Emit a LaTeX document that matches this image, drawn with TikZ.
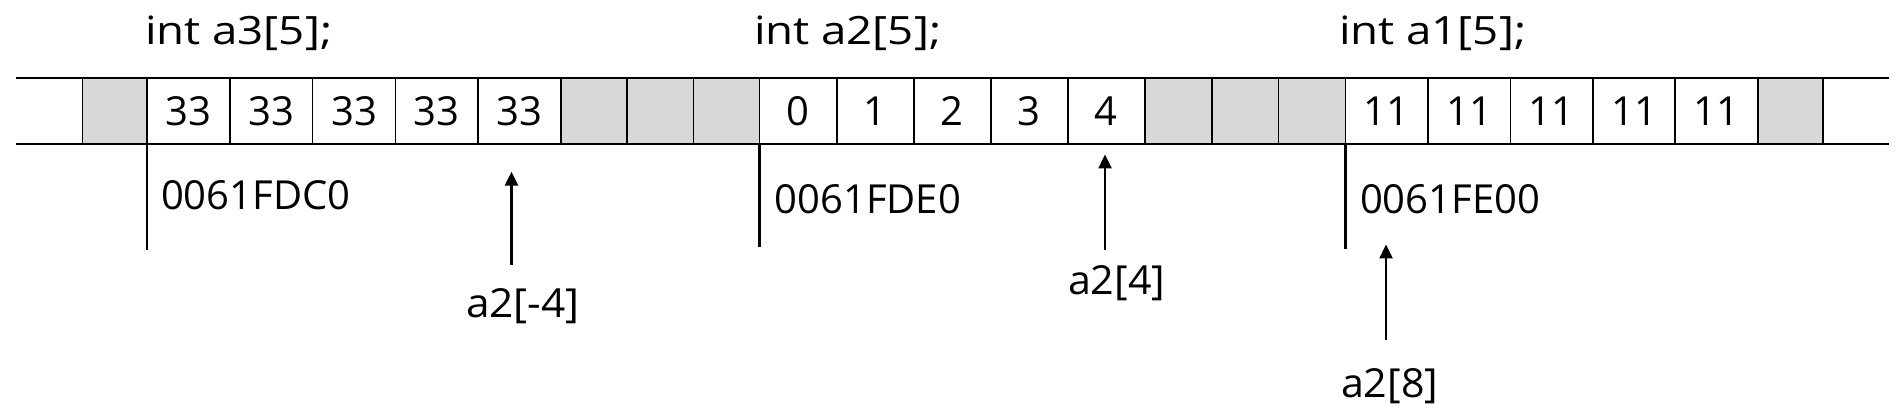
\documentclass[tikz,border=0pt]{standalone}
\usepackage{fontspec}
\usepackage{graphicx}
\setmainfont{Open Sans}
\usetikzlibrary{arrows.meta}
\definecolor{cellgray}{HTML}{D8D8D8}
\tikzset{
  cellbox/.style={draw=black, line width=1.7pt, fill=white, minimum height=66pt,
    inner sep=0pt, outer sep=0pt, anchor=north west, font=\fontsize{40}{48}\selectfont},
  padbox/.style={cellbox, fill=cellgray},
  lbl/.style={inner sep=0pt, outer sep=0pt, anchor=base west, font=\fontsize{40}{48}\selectfont},
  ttl/.style={inner sep=0pt, outer sep=0pt, anchor=base west, font=\fontsize{39}{46}\selectfont},
  rail/.style={line width=1.8pt},
  marker/.style={line width=2.3pt},
  ptr/.style={line width=2.5pt, -{Triangle[width=13pt,length=14pt]}},
}
\begin{document}
\begin{tikzpicture}[x=1pt,y=-1pt]
\useasboundingbox (0,0) rectangle (1903,419);
% rails
\coordinate (tl) at (16,78);   \coordinate (tr) at (1889,78);
\coordinate (bl) at (16,144);  \coordinate (br) at (1889,144);
\draw[rail] (tl) -- (tr);
\draw[rail] (bl) -- (br);
% padding cells
\node[padbox, minimum width=64.5] (g1) at (82.5,78) {};
\node[padbox, minimum width=66.2] (g2) at (561,78) {};
\node[padbox, minimum width=66.2] (g3) at (627.2,78) {};
\node[padbox, minimum width=66.2] (g4) at (693.4,78) {};
\node[padbox, minimum width=66.87] (g5) at (1144.9,78) {};
\node[padbox, minimum width=66.87] (g6) at (1211.77,78) {};
\node[padbox, minimum width=66.87] (g7) at (1278.63,78) {};
\node[padbox, minimum width=65] (g8) at (1757.7,78) {};
% array a3
\foreach \i/\x in {1/147,2/229.8,3/312.6,4/395.4,5/478.2}
  \node[cellbox, minimum width=82.8] (a3c\i) at (\x,78) {33};
% array a2
\foreach \i/\x in {0/759.6,1/836.66,2/913.72,3/990.78,4/1067.84}
  \node[cellbox, minimum width=77.06] (a2c\i) at (\x,78) {\i};
% array a1
\foreach \i/\x in {1/1345.5,2/1427.94,3/1510.38,4/1592.82,5/1675.26}
  \node[cellbox, minimum width=82.44] (a1c\i) at (\x,78) {11};
% titles
\node[ttl] (t3) at (145,45) {\scalebox{1.17}[1]{int a3[5];}};
\node[ttl] (t2) at (754,45) {\scalebox{1.17}[1]{int a2[5];}};
\node[ttl] (t1) at (1339,45) {\scalebox{1.17}[1]{int a1[5];}};
% address markers
\coordinate (m3e) at (147,250);
\coordinate (m2e) at (759.6,247.5);
\coordinate (m1e) at (1345.5,249.5);
\draw[marker] (a3c1.south west) -- (m3e);
\draw[marker] (a2c0.south west) -- (m2e);
\draw[marker] (a1c1.south west) -- (m1e);
\node[lbl] (ad3) at (161,210) {0061FDC0};
\node[lbl] (ad2) at (774.5,214) {0061FDE0};
\node[lbl] (ad1) at (1360,213.5) {0061FE00};
% pointers
\coordinate (p1t) at (511.5,265);  \coordinate (p1h) at (511.5,171.7);
\coordinate (p2t) at (1105,250);   \coordinate (p2h) at (1105,154.5);
\coordinate (p3t) at (1386,340);   \coordinate (p3h) at (1386,244.5);
\draw[ptr] (p1t) -- (p1h);
\draw[ptr] (p2t) -- (p2h);
\draw[ptr] (p3t) -- (p3h);
\node[lbl] (l1) at (466,318) {\scalebox{1.06}[1]{a2[-4]}};
\node[lbl] (l2) at (1068,295) {\scalebox{1.03}[1]{a2[4]}};
\node[lbl] (l3) at (1341,397) {\scalebox{1.03}[1]{a2[8]}};
\end{tikzpicture}
\end{document}
